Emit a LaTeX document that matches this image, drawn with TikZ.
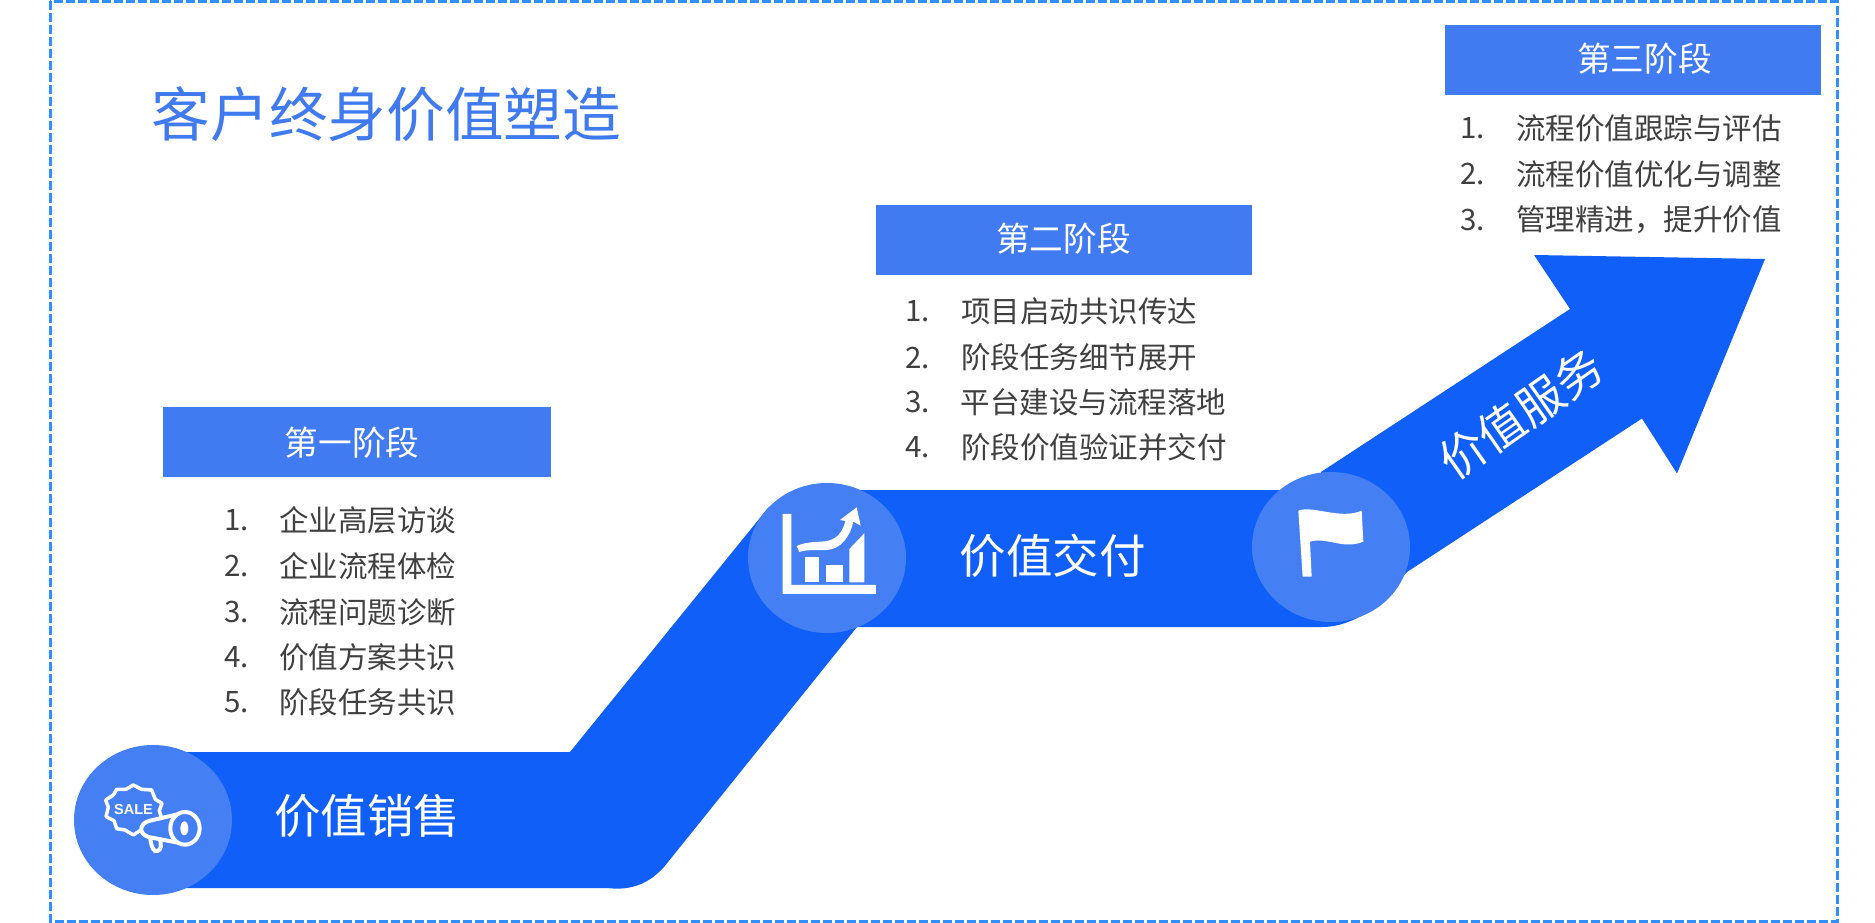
\documentclass[tikz,border=0pt]{standalone}
\usepackage{fontspec}
\setmainfont{Noto Sans CJK SC}
\newfontfamily\salefont{Liberation Sans}
\definecolor{bandblue}{HTML}{0F5FF8}
\definecolor{discblue}{HTML}{4480F3}
\definecolor{headblue}{HTML}{417BF2}
\definecolor{frameblue}{HTML}{2F8FFF}
\definecolor{titleblue}{HTML}{3F7BEE}
\definecolor{listgray}{HTML}{404040}
\tikzset{
  disc/.style={fill=discblue,draw=none},
  headbox/.style={fill=headblue,draw=none,minimum height=70.5pt,inner sep=0pt},
  headtext/.style={text=white,inner sep=0pt,font=\fontsize{33.7pt}{34pt}\selectfont},
  bandlabel/.style={text=white,inner sep=0pt,font=\fontsize{46.5pt}{47pt}\selectfont},
  listnum/.style={text=listgray,inner sep=0pt,anchor=west,font=\fontsize{29.5pt}{30pt}\selectfont},
  listtext/.style={text=listgray,inner sep=0pt,anchor=west,font=\fontsize{29.5pt}{30pt}\selectfont},
  icon/.style={fill=white,draw=none}
}
\begin{document}
\begin{tikzpicture}[x=1pt,y=-1pt]
\useasboundingbox (0,0) rectangle (1875,923);
\fill[white] (0,0) rectangle (1875,923);
% frame
\draw[frameblue,line width=3pt,dash pattern=on 9pt off 3pt] (50,1.5) rectangle (1837,921);
% title
\node[text=titleblue,inner sep=0pt,anchor=center,font=\fontsize{58.7pt}{59pt}\selectfont] (title) at (386.5,114) {客户终身价值塑造};
% band
\fill[bandblue] (153,752) -- (570,752) -- (768,508) -- (800,490) -- (1322,490) -- (1322,627) -- (857,627)
  -- (664,867) .. controls (645,888) and (625,890) .. (607,888) -- (153,888) -- cycle;
% arrow
\fill[bandblue] (1321,472) -- (1570,309) -- (1534,255) -- (1765,259) -- (1677,473.5) -- (1642,418.5)
  -- (1407,572) -- (1372,610) .. controls (1355,620) and (1340,627) .. (1322,627) -- cycle;
% discs
\path[disc] (153,820) ellipse [x radius=79,y radius=75];
\path[disc] (827,558) ellipse [x radius=79,y radius=75];
\path[disc] (1331,547) ellipse [x radius=79,y radius=75];
% sale icon
\begin{scope}[shift={(50,720)},x=0.3333pt,y=-0.3333pt]
  \draw[white,line width=3.5pt,line join=round]
    (250,195) -- (275,208) -- (305,210) -- (316,238) -- (336,250) -- (328,272) -- (336,298)
    -- (308,310) -- (295,330) -- (270,332) -- (250,345) -- (225,330) -- (200,326) -- (192,302)
    -- (168,290) -- (175,262) -- (167,240) -- (190,225) -- (200,208) -- (228,208) -- cycle;
  \draw[white,line width=4pt,fill=discblue]
    (300,350) .. controls (303,370) and (305,385) .. (315,393) .. controls (328,395) and (335,385) .. (332,370) -- (330,350) -- cycle;
  \draw[white,line width=4pt,fill=discblue,line join=round]
    (405,278) -- (300,302) .. controls (265,310) and (265,345) .. (300,352) -- (405,372) -- cycle;
  \draw[white,line width=4pt,fill=discblue] (405,325) ellipse [x radius=44,y radius=49];
  \fill[white] (403,325) ellipse [x radius=12,y radius=21];
\end{scope}
\node[text=white,inner sep=0pt,font=\salefont\bfseries\fontsize{14.5pt}{15pt}\selectfont] (sale) at (133.5,809.5) {SALE};
% chart icon
\begin{scope}[shift={(730,470)},x=0.3333pt,y=-0.3333pt]
  \fill[icon] (158,132) -- (184,132) -- (184,345) -- (438,345) -- (438,372) -- (158,372) -- cycle;
  \fill[icon] (224,262) rectangle (268,337);
  \fill[icon] (288,285) rectangle (338,337);
  \fill[icon] (358,237) -- (403,190) -- (403,337) -- (358,337) -- cycle;
  \fill[icon] (200,228) .. controls (235,212) and (270,218) .. (295,212) .. controls (325,205) and (340,180) .. (346,153)
    -- (330,150) -- (380,112) -- (392,167) -- (370,155) .. controls (362,195) and (335,238) .. (290,240)
    .. controls (260,241) and (230,238) .. (208,246) -- cycle;
\end{scope}
% flag icon
\begin{scope}[shift={(1230,460)},x=0.3333pt,y=-0.3333pt]
  \fill[icon] (205,152) .. controls (250,135) and (330,180) .. (395,152) -- (400,245)
    .. controls (340,270) and (290,230) .. (240,245) -- (245,350) -- (218,350) -- cycle;
\end{scope}
% band labels
\node[bandlabel] (l1) at (367,816) {价值销售};
\node[bandlabel] (l2) at (1052.5,556) {价值交付};
\node[bandlabel,rotate=35] (l3) at (1521,414) {价值服务};
% stage 1
\node[headbox,minimum width=388pt] (h1) at (357,442) {};
\node[headtext] (h1t) at (352,443) {第一阶段};
\node[listnum] (a1n) at (224,520) {1.};  \node[listtext] (a1) at (279,520) {企业高层访谈};
\node[listnum] (a2n) at (224,566) {2.};  \node[listtext] (a2) at (279,566) {企业流程体检};
\node[listnum] (a3n) at (224,612) {3.};  \node[listtext] (a3) at (279,612) {流程问题诊断};
\node[listnum] (a4n) at (224,657.5) {4.};\node[listtext] (a4) at (279,657.5) {价值方案共识};
\node[listnum] (a5n) at (224,702) {5.};  \node[listtext] (a5) at (279,702) {阶段任务共识};
% stage 2
\node[headbox,minimum width=376.5pt] (h2) at (1064,240) {};
\node[headtext] (h2t) at (1063.5,238.5) {第二阶段};
\node[listnum] (b1n) at (905,311) {1.};  \node[listtext] (b1) at (961,311) {项目启动共识传达};
\node[listnum] (b2n) at (905,357.5) {2.};\node[listtext] (b2) at (961,357.5) {阶段任务细节展开};
\node[listnum] (b3n) at (905,402) {3.};  \node[listtext] (b3) at (960.5,402) {平台建设与流程落地};
\node[listnum] (b4n) at (905,447) {4.};  \node[listtext] (b4) at (961,447) {阶段价值验证并交付};
% stage 3
\node[headbox,minimum width=376pt] (h3) at (1633,60) {};
\node[headtext] (h3t) at (1644.5,59) {第三阶段};
\node[listnum] (c1n) at (1460,128) {1.}; \node[listtext] (c1) at (1516,128) {流程价值跟踪与评估};
\node[listnum] (c2n) at (1460,174) {2.}; \node[listtext] (c2) at (1516,174) {流程价值优化与调整};
\node[listnum] (c3n) at (1460,220) {3.}; \node[listtext] (c3) at (1516,220) {管理精进，提升价值};
\end{tikzpicture}
\end{document}
